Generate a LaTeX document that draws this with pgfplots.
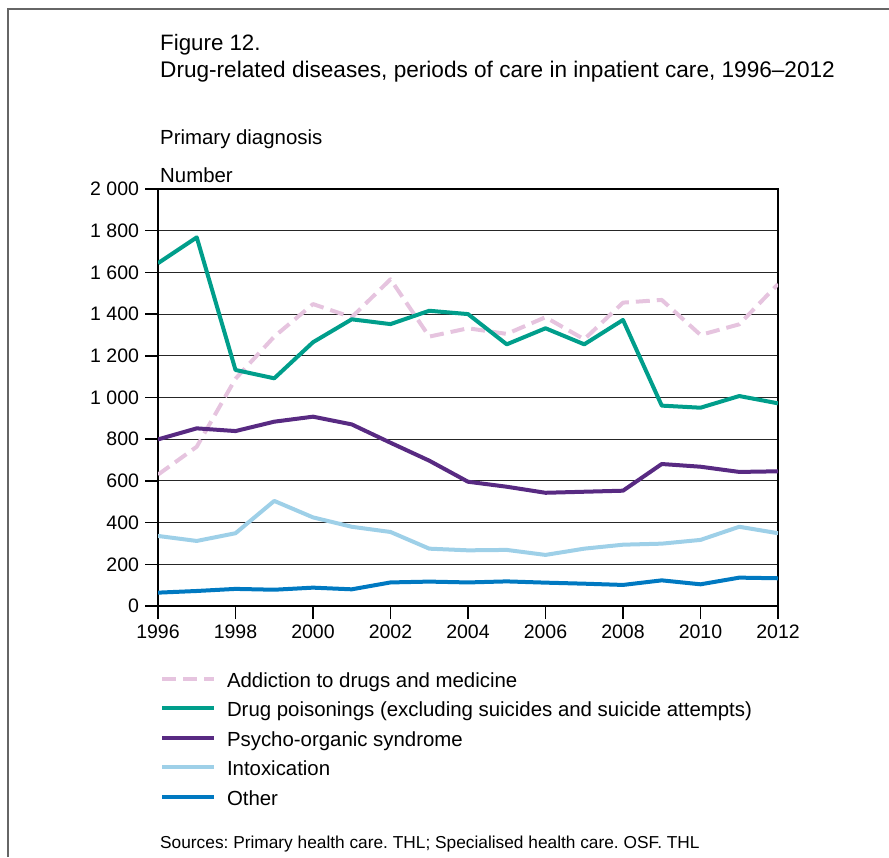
\documentclass[border=0pt]{standalone}
\usepackage{pgfplots}
\pgfplotsset{compat=1.18}
\usepackage{fontspec}
\setmainfont{Liberation Sans}
\frenchspacing
\definecolor{cPink}{HTML}{E6C4DF}
\definecolor{cTeal}{HTML}{009E8B}
\definecolor{cPurple}{HTML}{582A82}
\definecolor{cLight}{HTML}{9ED0E8}
\definecolor{cBlue}{HTML}{0079C1}
\begin{document}
\begin{tikzpicture}[x=1pt,y=1pt]
\useasboundingbox (0,0) rectangle (889,857);
\draw[gray!80!black, line width=1.3pt] (8,0) -- (8,848) -- (889,848);
\node[anchor=base west, inner sep=0pt, font=\fontsize{22.3}{24}\selectfont] at (160,806) {Figure 12.};
\node[anchor=base west, inner sep=0pt, font=\fontsize{22.6}{24}\selectfont] at (160,779) {Drug-related diseases, periods of care in inpatient care, 1996–2012};
\node[anchor=base west, inner sep=0pt, font=\fontsize{20.4}{22}\selectfont] at (160,712) {Primary diagnosis};
\node[anchor=base west, inner sep=0pt, font=\fontsize{20.4}{22}\selectfont] at (160,674) {Number};
\node[anchor=base west, inner sep=0pt, font=\fontsize{17.3}{19}\selectfont] at (160,9) {Sources: Primary health care. THL; Specialised health care. OSF. THL};
\begin{axis}[
  at={(158pt,251pt)}, anchor=south west,
  scale only axis, width=620pt, height=417pt,
  xmin=1996, xmax=2012, ymin=0, ymax=2000,
  xtick={1996,1998,...,2012}, ytick={0,200,...,2000},
  axis line style={black, line width=1.5pt},
  tick align=outside, major tick length=13pt,
  tick style={black, line width=1.5pt},
  xtick pos=bottom, ytick pos=left,
  ymajorgrids, major grid style={black!85, line width=1.1pt},
  tick label style={font=\fontsize{19.5}{20}\selectfont},
  /pgf/number format/assume math mode=true,
  x tick label style={/pgf/number format/1000 sep={}, yshift=-1pt},
  y tick label style={/pgf/number format/1000 sep={\ }},
  every tick label/.append style={inner sep=0pt, outer sep=0pt},
  xticklabel style={yshift=-5pt},
  yticklabel style={xshift=-6pt},
  legend style={draw=none, fill=none, inner sep=0pt, outer sep=0pt,
    at={(axis description cs:0,0)}, anchor=north west, xshift=2pt, yshift=-66pt,
    font=\fontsize{20.4}{22}\selectfont, row sep=10.6pt,
    nodes={inner sep=0pt, text height=15pt, text depth=4pt},
    /tikz/every odd column/.append style={column sep=11pt}},
  legend cell align=left,
  legend image code/.code={\draw[#1, line width=4pt] (0pt,3pt) -- (52pt,3pt);},
  every axis plot/.append style={line width=4pt, line join=round},
]
\addplot[cPink, dash pattern=on 14pt off 7pt] coordinates {
(1996,630) (1997,764) (1998,1090) (1999,1292) (2000,1448) (2001,1385) (2002,1567) (2003,1292) (2004,1332) (2005,1305) (2006,1385) (2007,1279) (2008,1455) (2009,1468) (2010,1300) (2011,1351) (2012,1544)};
\addlegendentry{Addiction to drugs and medicine}
\addplot[cTeal] coordinates {
(1996,1644) (1997,1768) (1998,1132) (1999,1092) (2000,1265) (2001,1375) (2002,1352) (2003,1416) (2004,1400) (2005,1255) (2006,1332) (2007,1255) (2008,1372) (2009,961) (2010,951) (2011,1007) (2012,972)};
\addlegendentry{Drug poisonings (excluding suicides and suicide attempts)}
\addplot[cPurple] coordinates {
(1996,799) (1997,852) (1998,839) (1999,884) (2000,908) (2001,871) (2002,783) (2003,697) (2004,596) (2005,572) (2006,543) (2007,548) (2008,553) (2009,681) (2010,668) (2011,643) (2012,646)};
\addlegendentry{Psycho-organic syndrome}
\addplot[cLight] coordinates {
(1996,336) (1997,312) (1998,349) (1999,504) (2000,425) (2001,380) (2002,355) (2003,275) (2004,267) (2005,269) (2006,245) (2007,275) (2008,294) (2009,299) (2010,317) (2011,380) (2012,349)};
\addlegendentry{Intoxication}
\addplot[cBlue] coordinates {
(1996,64) (1997,72) (1998,82) (1999,78) (2000,88) (2001,80) (2002,113) (2003,117) (2004,113) (2005,118) (2006,112) (2007,107) (2008,101) (2009,123) (2010,104) (2011,136) (2012,133)};
\addlegendentry{Other}
\end{axis}
\end{tikzpicture}
\end{document}
